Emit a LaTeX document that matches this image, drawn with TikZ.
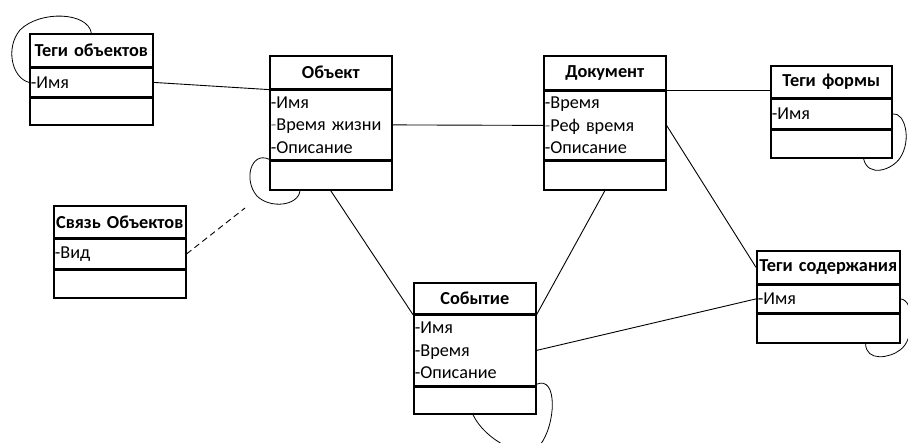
\documentclass[tikz,border=0pt]{standalone}
\usepackage{fontspec}
\setmainfont{Carlito}
\usetikzlibrary{calc}
\tikzset{
  boxline/.style={draw=black, line width=1.6pt},
  hdr/.style={boxline, inner xsep=0pt, inner ysep=0pt, align=center, font=\fontsize{18.3}{22.5}\selectfont\bfseries},
  attr/.style={boxline, inner xsep=0pt, inner ysep=0pt, align=left, font=\fontsize{18.2}{22.5}\selectfont},
  emp/.style={boxline, inner sep=0pt},
  conn/.style={draw=black, line width=0.9pt},
  loopline/.style={draw=black, line width=0.8pt},
}
\newcommand{\UMLclass}[9]{%
  \node[hdr, text width=#4pt, minimum height=#5pt, anchor=north west] (#1H) at (#2,#3) {#8};
  \node[attr, text width=#4pt, minimum height=#6pt, anchor=north west] (#1A) at (#1H.south west) {#9};
  \node[emp, minimum width=#4pt, minimum height=#7pt, anchor=north west] (#1E) at (#1A.south west) {};
}
\newcommand{\dsh}{\hspace*{1pt}-}
\newcommand{\gdsh}{\hspace*{1pt}{\color{gray}-}}
\begin{document}
\begin{tikzpicture}[x=1pt,y=-1pt]
\useasboundingbox (0,0) rectangle (908,442);
\clip (0,0) rectangle (908,442);
\fill[white] (0,0) rectangle (908,442);

\coordinate (dashend) at (245,208);

\UMLclass{tagO}{29}{33}{123}{33}{28}{27}{Теги объектов}{\dsh Имя}
\UMLclass{obj}{269}{55}{122}{33}{69}{29}{Объект}{\dsh Имя\\\gdsh Время жизни\\\dsh Описание}
\UMLclass{doc}{543}{55}{122}{34}{68}{29}{Документ}{\dsh Время\\\gdsh Реф время\\\dsh Описание}
\UMLclass{tf}{770}{65}{121}{32}{29}{28}{Теги формы}{\dsh Имя}
\UMLclass{link}{53}{205}{132}{32}{29}{28}{Связь Объектов}{\dsh Вид}
\UMLclass{ev}{413}{282}{122}{31}{70}{27}{Событие}{\dsh Имя\\\dsh Время\\\dsh Описание}
\UMLclass{ts}{756}{250}{143}{33}{27}{29}{Теги содержания}{\dsh Имя}

% straight connectors
\draw[conn] (tagOA.east) -- (objH.south west);
\draw[conn] (objA.east) -- (docA.west);
\draw[conn] (docH.south east) -- (docH.south east -| tfH.west);
\draw[conn] (docA.east) -- (tsH.west);
\draw[conn] (docE.south) -- (evH.south east);
\draw[conn] (objE.south) -- (evH.south west);
\draw[conn] (evA.east) -- (tsA.west);
\draw[conn, dashed, dash pattern=on 6pt off 4pt] (linkA.east) -- (dashend);

% self loops
\draw[loopline] (tagOH.north) .. controls (88,12) and (40,10) .. (20,30)
  .. controls (5,48) and (12,78) .. (tagOA.west);
\draw[loopline] ($(objA.south west)+(0,-1)$) .. controls (251,151) and (243,180) .. (257,196)
  .. controls (270,209) and (298,206) .. ($(objE.south west)+(31,0)$);
\draw[loopline] (tfA.east) .. controls (905,112) and (912,140) .. (900,158)
  .. controls (892,170) and (868,178) .. ($(tfE.south east)+(-29,0)$);
\draw[loopline] (tsA.east) .. controls (915,300) and (915,340) .. (900,350)
  .. controls (890,358) and (866,362) .. ($(tsE.south east)+(-35,0)$);
\draw[loopline] ($(evA.south east)+(0,-2)$) .. controls (558,375) and (556,425) .. (540,445)
  .. controls (525,462) and (485,440) .. ($(evE.south west)+(60,0)$);
\end{tikzpicture}
\end{document}
